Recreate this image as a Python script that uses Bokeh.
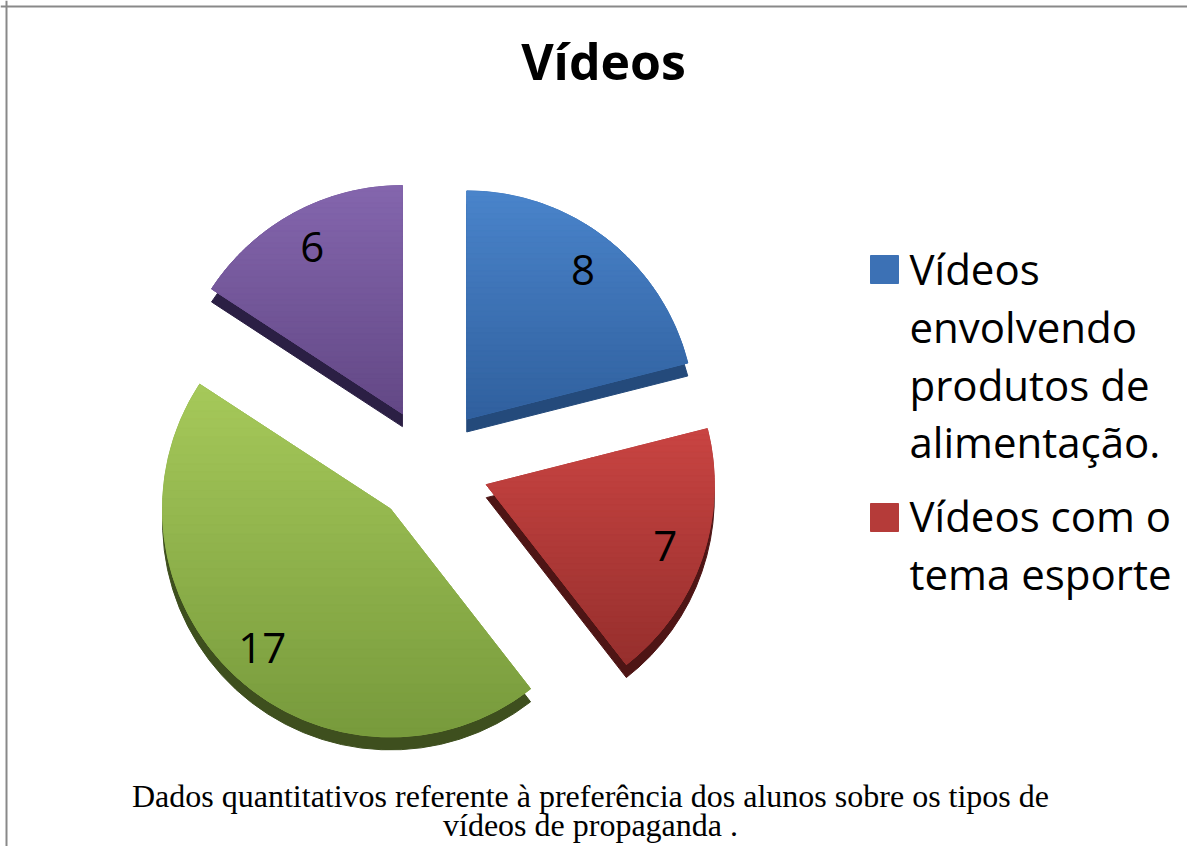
import math
from bokeh.plotting import figure
from bokeh.models import Range1d, Span
from bokeh.core.properties import value
from bokeh.embed import file_html
from bokeh.resources import INLINE

# ---- data ----
values = [8, 7, 17, 6]
top_colors = ["#4A84CB", "#C94442", "#A6C95A", "#8466AD"]
bottom_colors = ["#30609E", "#962F2D", "#779A3C", "#634886"]
side_colors = ["#244A7B", "#4E1515", "#3E4F1E", "#2B1F44"]
legend_labels = [["Vídeos", "envolvendo", "produtos de", "alimentação."],
                 ["Vídeos com o", "tema esporte"]]
legend_colors = ["#3C71B5", "#B53B39"]
title_text = "Vídeos"
caption_lines = ["Dados quantitativos referente à preferência dos alunos sobre os tipos de",
                 "vídeos de propaganda ."]

W, H = 1187, 846
p = figure(width=W, height=H, x_range=Range1d(0, W), y_range=Range1d(0, H),
           x_axis_type=None, y_axis_type=None, toolbar_location=None,
           output_backend="svg", min_border=0)
p.grid.visible = False
p.outline_line_color = None
p.background_fill_color = "white"


def Y(img_y):
    return H - img_y


# border (top & left visible in reference)
p.add_layout(Span(location=6, dimension="height", line_color="#898989", line_width=2))
p.add_layout(Span(location=Y(6), dimension="width", line_color="#898989", line_width=2))

# ---- pie geometry ----
cx, cy = 430, Y(465)
R = 228
explode = 59
depth = 13


def hex2rgb(h):
    h = h.lstrip("#")
    return tuple(int(h[i:i + 2], 16) for i in (0, 2, 4))


def mix(c1, c2, t):
    a, b = hex2rgb(c1), hex2rgb(c2)
    return "#%02x%02x%02x" % tuple(int(round(a[i] + (b[i] - a[i]) * t)) for i in range(3))


def clip(poly, y0, keep_above):
    out = []
    n = len(poly)
    for i in range(n):
        P, Q = poly[i], poly[(i + 1) % n]
        pin = (P[1] >= y0) if keep_above else (P[1] <= y0)
        qin = (Q[1] >= y0) if keep_above else (Q[1] <= y0)
        if pin:
            out.append(P)
        if pin != qin:
            t = (y0 - P[1]) / (Q[1] - P[1])
            out.append((P[0] + t * (Q[0] - P[0]), y0))
    return out


total = float(sum(values))
starts, ends, ax, ay, lx, ly, polys = [], [], [], [], [], [], []
cum = 0.0
for v in values:
    t1 = cum / total * 2 * math.pi        # clockwise from 12 o'clock
    t2 = (cum + v) / total * 2 * math.pi
    mid = (t1 + t2) / 2
    cum += v
    x0 = cx + explode * math.sin(mid)
    y0 = cy + explode * math.cos(mid)
    ax.append(x0)
    ay.append(y0)
    starts.append(math.pi / 2 - t2)
    ends.append(math.pi / 2 - t1)
    lx.append(x0 + 0.83 * R * math.sin(mid))
    ly.append(y0 + 0.83 * R * math.cos(mid))
    pts = [(x0, y0)]
    n = 90
    for k in range(n + 1):
        t = t1 + (t2 - t1) * k / n
        pts.append((x0 + R * math.sin(t), y0 + R * math.cos(t)))
    polys.append(pts)

# 3D side
p.wedge(x=ax, y=[b - depth for b in ay], radius=R,
        start_angle=starts, end_angle=ends, fill_color=side_colors,
        line_color=side_colors, line_width=1)
# top faces (base colour)
mid_colors = [mix(a, b, 0.5) for a, b in zip(top_colors, bottom_colors)]
p.wedge(x=ax, y=ay, radius=R, start_angle=starts, end_angle=ends,
        fill_color=mid_colors, line_color=mid_colors, line_width=1)

# vertical gradient shading on the top faces
bxs, bys, bcs = [], [], []
nb = 40
for poly, ct, cb in zip(polys, top_colors, bottom_colors):
    ymax = max(q[1] for q in poly)
    ymin = min(q[1] for q in poly)
    for j in range(nb):
        yt = ymax - (ymax - ymin) * j / nb
        yb = ymax - (ymax - ymin) * (j + 1) / nb
        band = clip(clip(poly, yb, True), yt, False)
        if len(band) < 3:
            continue
        bxs.append([q[0] for q in band])
        bys.append([q[1] for q in band])
        bcs.append(mix(ct, cb, (j + 0.5) / nb))
p.patches(xs=bxs, ys=bys, fill_color=bcs, line_color=bcs, line_width=0.8)

# data labels
p.text(x=lx, y=ly, text=[str(v) for v in values], text_font=value("Open Sans"),
       text_font_size="42px", text_align="center", text_baseline="middle",
       text_color="black")

# ---- title ----
p.text(x=[603], y=[Y(60)], text=[title_text], text_font=value("Open Sans"),
       text_font_style="bold", text_font_size="50px", text_align="center",
       text_baseline="middle", text_color="black")

# ---- legend ----
sq_x = 884
txt_x = 909
fs = 42
line_h = 57.7
entry_base = [283.3, 530]
entry_sq = [269, 517]
for labels, col, b0, sq in zip(legend_labels, legend_colors, entry_base, entry_sq):
    p.rect(x=[sq_x], y=[Y(sq)], width=28, height=28, fill_color=col,
           line_color=col)
    ys = [Y(b0 + i * line_h - 0.36 * fs) for i in range(len(labels))]
    p.text(x=[txt_x] * len(labels), y=ys, text=labels, text_font=value("Open Sans"),
           text_font_size="%dpx" % fs, text_align="left", text_baseline="middle",
           text_color="black")

# ---- caption ----
cfs = 32
p.text(x=[590, 590], y=[Y(806 - 0.34 * cfs), Y(835 - 0.34 * cfs)], text=caption_lines,
       text_font=value("Liberation Serif"), text_font_size="%dpx" % cfs,
       text_align="center", text_baseline="middle", text_color="black")

open("out.html", "w").write(file_html(p, INLINE))
